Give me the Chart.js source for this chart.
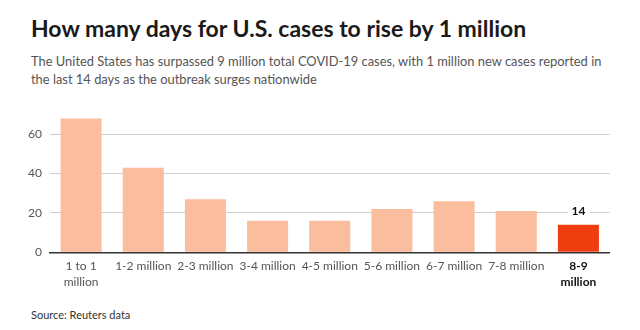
<!DOCTYPE html>
<html>
<head>
<meta charset="utf-8">
<script src="https://cdn.jsdelivr.net/npm/chart.js@4.4.0/dist/chart.umd.min.js"></script>
<style>
  html, body { margin: 0; padding: 0; background: #fff; }
  body { width: 640px; height: 330px; position: relative; overflow: hidden; font-family: Lato, "Noto Sans", sans-serif; }
  #title { position: absolute; left: 31px; top: 14px; font-size: 23px; font-weight: bold; color: #1a1a1a; white-space: nowrap; }
  #subtitle { position: absolute; left: 31px; top: 53px; font-size: 12.9px; line-height: 17.5px; color: #555; white-space: nowrap; }
  #source { position: absolute; left: 31px; top: 308px; font-size: 11px; color: #333; }
  #wrap { position: absolute; left: 0; top: 90px; width: 640px; height: 210px; }
</style>
</head>
<body>
<div id="title">How many days for U.S. cases to rise by 1 million</div>
<div id="subtitle">The United States has surpassed 9 million total COVID-19 cases, with 1 million new cases reported in<br>the last 14 days as the outbreak surges nationwide</div>
<div id="wrap"><canvas id="chart"></canvas></div>
<div id="source">Source: Reuters data</div>
<script>
// Chart data
const categories = [
    ['1 to 1', 'million'], '1-2 million', '2-3 million', '3-4 million', '4-5 million',
    '5-6 million', '6-7 million', '7-8 million', ['8-9', 'million']
];
const days = [68, 43, 27, 16, 16, 22, 26, 21, 14];
const yTicks = [0, 20, 40, 60];
const highlightIndex = 8;

const peach = '#fabd9e';
const red = '#ee3e10';

// Draw the value label above the highlighted bar
const valueLabel = {
    id: 'valueLabel',
    afterDatasetsDraw(chart) {
        const ctx = chart.ctx;
        const bar = chart.getDatasetMeta(0).data[highlightIndex];
        const text = String(days[highlightIndex]);
        ctx.save();
        ctx.font = 'bold 12px Lato, "Noto Sans", sans-serif';
        const w = ctx.measureText(text).width;
        const y = bar.y - 14;
        ctx.fillStyle = '#fff';
        ctx.fillRect(bar.x - w / 2 - 4, y - 7, w + 8, 14);
        ctx.fillStyle = '#111';
        ctx.textAlign = 'center';
        ctx.textBaseline = 'middle';
        ctx.fillText(text, bar.x, y);
        ctx.restore();
    }
};

new Chart(document.getElementById('chart'), {
    type: 'bar',
    data: {
        labels: categories,
        datasets: [{
            data: days,
            backgroundColor: days.map((d, i) => i === highlightIndex ? red : peach),
            categoryPercentage: 1,
            barPercentage: 0.66
        }]
    },
    options: {
        responsive: true,
        maintainAspectRatio: false,
        animation: false,
        layout: { padding: { top: 24.6, right: 30.5, left: 0, bottom: 0 } },
        plugins: {
            legend: { display: false },
            tooltip: { enabled: false }
        },
        scales: {
            x: {
                grid: { display: false, drawTicks: false },
                border: { display: true, color: '#333', width: 1.5 },
                ticks: {
                    padding: 6,
                    maxRotation: 0,
                    autoSkip: false,
                    color: ctx => ctx.index === highlightIndex ? '#111' : '#555',
                    font: ctx => ({
                        family: 'Lato, "Noto Sans", sans-serif',
                        size: 12,
                        weight: ctx.index === highlightIndex ? 'bold' : 'normal',
                        lineHeight: 1.35
                    })
                },
                afterFit(scale) { scale.height = 47.7; }
            },
            y: {
                min: 0,
                max: 70,
                afterBuildTicks(axis) {
                    axis.ticks = yTicks.map(v => ({ value: v }));
                },
                grid: {
                    drawTicks: false,
                    color: ctx => ctx.tick && ctx.tick.value === 0 ? 'rgba(0,0,0,0)' : '#cfcfcf',
                    lineWidth: 1
                },
                border: { display: false },
                ticks: {
                    padding: 8,
                    color: '#555',
                    font: { family: 'Lato, "Noto Sans", sans-serif', size: 12 }
                },
                afterFit(scale) { scale.width = 50; }
            }
        }
    },
    plugins: [valueLabel]
});
</script>
</body>
</html>
